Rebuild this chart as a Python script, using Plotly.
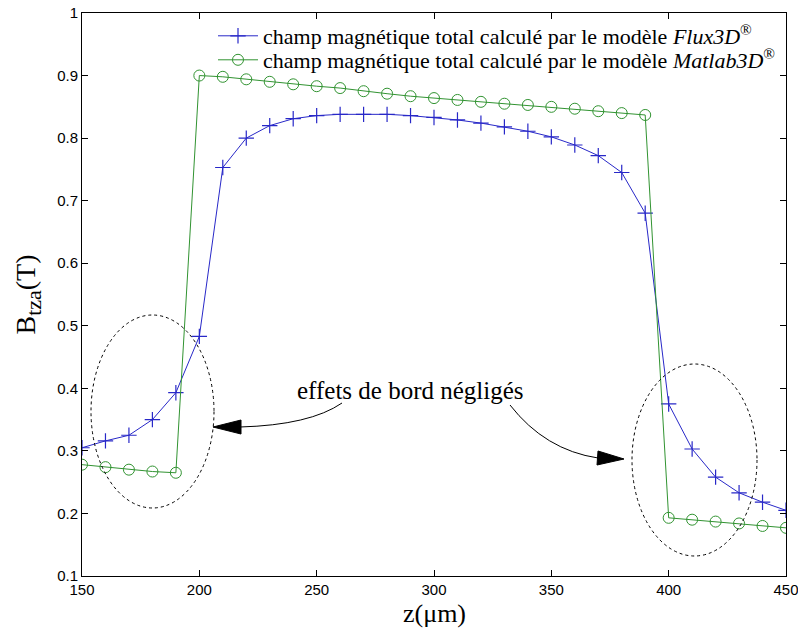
import plotly.graph_objects as go

z = [150, 160, 170, 180, 190, 200, 210, 220, 230, 240, 250, 260, 270, 280, 290, 300,
     310, 320, 330, 340, 350, 360, 370, 380, 390, 400, 410, 420, 430, 440, 450]
flux3d = [0.305, 0.316, 0.325, 0.350, 0.393, 0.483, 0.753, 0.800, 0.820, 0.831, 0.836,
          0.838, 0.838, 0.838, 0.836, 0.833, 0.829, 0.824, 0.818, 0.811, 0.802, 0.789,
          0.772, 0.745, 0.680, 0.375, 0.303, 0.258, 0.233, 0.218, 0.205]
matlab3d = [0.278, 0.274, 0.270, 0.267, 0.265, 0.900, 0.898, 0.894, 0.890, 0.886, 0.883,
            0.880, 0.875, 0.871, 0.867, 0.864, 0.861, 0.858, 0.855, 0.853, 0.850, 0.847,
            0.843, 0.840, 0.837, 0.193, 0.190, 0.187, 0.184, 0.180, 0.177]

x_ticks = [150, 200, 250, 300, 350, 400, 450]
y_ticks = [0.1, 0.2, 0.3, 0.4, 0.5, 0.6, 0.7, 0.8, 0.9, 1]
y_tick_text = ["0.1", "0.2", "0.3", "0.4", "0.5", "0.6", "0.7", "0.8", "0.9", "1"]

name_flux = "champ magnétique total calculé par le modèle <i>Flux3D</i><sup>®</sup>"
name_matlab = "champ magnétique total calculé par le modèle <i>Matlab3D</i><sup>®</sup>"
note = "effets de bord négligés"
x_title = "z(μm)"
y_title = "B<sub><span style='font-size:22px'>tza</span></sub>(T)"

BLUE = "#2828c8"
GREEN = "#319331"
SERIF = "Liberation Serif, Times New Roman, serif"
SANS = "Liberation Sans, Arial, sans-serif"

# target geometry in screen pixels (page body margin removed below)
W, H = 798, 632
L, R, T, B = 82, 786, 13, 576


def px(xp, yp):
    return 150 + (xp - L) * 300 / (R - L), 1 - (yp - T) * 0.9 / (B - T)


def pfx(xp):
    return (xp - L) / (R - L)


def pfy(yp):
    return 1 - (yp - T) / (B - T)


fig = go.Figure()
fig.add_trace(go.Scatter(
    x=z, y=flux3d, mode="lines+markers", name=name_flux, legend="legend",
    line=dict(color=BLUE, width=1),
    marker=dict(symbol="cross-thin-open", size=11, color=BLUE, line=dict(color=BLUE, width=1.2)),
))
fig.add_trace(go.Scatter(
    x=z, y=matlab3d, mode="lines+markers", name=name_matlab, legend="legend2",
    line=dict(color=GREEN, width=1),
    marker=dict(symbol="circle-open", size=11, color=GREEN, line=dict(color=GREEN, width=1)),
))

shapes = []
# dotted ellipses
for (x0p, y0p, x1p, y1p) in [(91, 315, 214, 508), (632, 364, 757, 556)]:
    a0, b0 = px(x0p, y1p)
    a1, b1 = px(x1p, y0p)
    shapes.append(dict(type="circle", xref="x", yref="y", x0=a0, y0=b0, x1=a1, y1=b1,
                       line=dict(color="black", width=1, dash="dot")))


def curve(p0, c, p1):
    (ax, ay), (cx, cy), (bx, by) = px(*p0), px(*c), px(*p1)
    return dict(type="path", xref="x", yref="y",
                path=f"M {ax},{ay} Q {cx},{cy} {bx},{by}",
                line=dict(color="black", width=1))


def tri(t, b1, b2):
    (tx, ty), (ux, uy), (vx, vy) = px(*t), px(*b1), px(*b2)
    return dict(type="path", xref="x", yref="y",
                path=f"M {tx},{ty} L {ux},{uy} L {vx},{vy} Z",
                fillcolor="black", line=dict(color="black", width=1))


shapes.append(curve((342, 403), (310, 425), (240, 427)))
shapes.append(tri((213, 427), (241, 420), (241, 434)))
shapes.append(curve((510, 405), (545, 450), (598, 458)))
shapes.append(tri((624, 459), (598, 451), (597, 465)))

tx, ty = px(410, 390)
fig.add_annotation(x=tx, y=ty, xref="x", yref="y", text=note, showarrow=False,
                   font=dict(family=SERIF, size=25, color="black"))
# x-axis title
fig.add_annotation(x=0.5, y=pfy(613), xref="paper", yref="paper", text=x_title,
                   showarrow=False, xanchor="center", yanchor="middle", borderpad=0,
                   font=dict(family=SERIF, size=26, color="black"))

axis_common = dict(showline=True, linecolor="black", linewidth=1, mirror="ticks",
                   ticks="inside", ticklen=6, tickcolor="black", showgrid=False,
                   zeroline=False, automargin=False, ticklabeloverflow="allow",
                   tickfont=dict(family=SANS, size=15, color="black"))

legend_common = dict(xanchor="left", yanchor="middle", bgcolor="rgba(0,0,0,0)",
                     borderwidth=0, itemwidth=40,
                     font=dict(family=SERIF, size=22, color="black"))

fig.update_layout(
    width=W, height=H,
    margin=dict(l=L, r=W - R, t=T, b=H - B, autoexpand=False),
    paper_bgcolor="white", plot_bgcolor="white",
    shapes=shapes,
    xaxis=dict(range=[150, 450], tickvals=x_ticks, **axis_common),
    yaxis=dict(range=[0.1, 1], tickvals=y_ticks, ticktext=y_tick_text,
               title=dict(text=y_title, font=dict(family=SERIF, size=28, color="black"),
                          standoff=13),
               **axis_common),
    legend=dict(x=pfx(213), y=pfy(36), **legend_common),
    legend2=dict(x=pfx(213), y=pfy(60), **legend_common),
    showlegend=True,
)

fig.write_html(
    "out.html",
    config={"displayModeBar": False},
    post_script="document.body.style.margin='0';document.body.style.overflow='hidden';",
)
